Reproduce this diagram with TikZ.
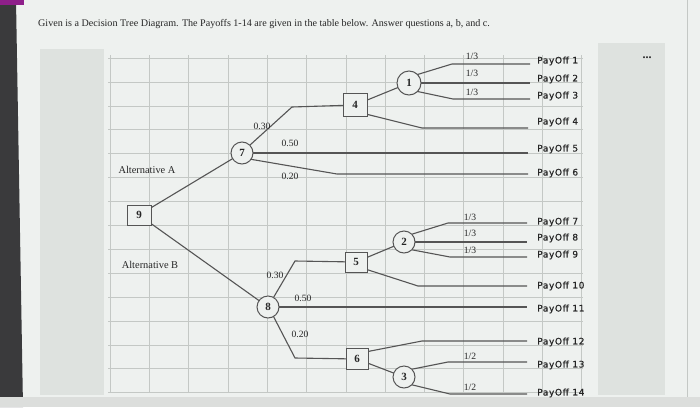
\documentclass[tikz,border=0pt]{standalone}
\usepackage{fontspec}
\setmainfont{Liberation Serif}
\newfontfamily\payfont[LetterSpace=7,FakeBold=0.6]{DejaVu Sans}
\definecolor{bgc}{HTML}{EEF1EF}
\definecolor{panelc}{HTML}{DEE2DF}
\definecolor{gridc}{HTML}{C4C8C5}
\definecolor{linec}{HTML}{555555}
\definecolor{txtc}{HTML}{262626}
\definecolor{stripc}{HTML}{3A3A3C}
\definecolor{purp}{HTML}{8E1F8A}
\begin{document}
\begin{tikzpicture}[x=1pt,y=-1pt,
  edge/.style={draw=linec,line width=1.1pt},
  chance/.style={circle,draw=linec,line width=1pt,fill=bgc,minimum size=22pt,inner sep=0pt,font=\fontsize{11}{12}\selectfont\bfseries,text=txtc},
  decbox/.style={rectangle,draw=linec,line width=1pt,fill=bgc,minimum width=23pt,minimum height=21pt,inner sep=0pt,font=\fontsize{11}{12}\selectfont\bfseries,text=txtc},
  prob/.style={font=\fontsize{9.6}{10}\selectfont,text=txtc,inner sep=0pt},
  pay/.style={anchor=west,font=\fontsize{9}{10}\selectfont\payfont,text=txtc,inner sep=0pt},
  alt/.style={font=\fontsize{10.4}{12}\selectfont,text=txtc,inner sep=0pt}]
\useasboundingbox (0,0) rectangle (700,407);
% screen background
\fill[bgc] (0,0) rectangle (700,407);
\fill[stripc] (0,0) -- (16,0) -- (23,407) -- (0,407) -- cycle;
\fill[purp] (0,0) rectangle (24,5);
\fill[gridc!60] (0,397) rectangle (700,407);
\draw[gridc,line width=0.6pt] (687,0) -- (687,397);
% side panels
\fill[panelc] (40,49) rectangle (104,395);
\fill[panelc] (598,43) rectangle (665,395);
% grid
\foreach \k in {0,...,12} {\draw[gridc,line width=0.6pt] ({110+39.3*\k},55) -- ({110+39.3*\k},393);}
\foreach \k in {0,...,14} {\draw[gridc,line width=0.6pt] (108,{58+23.9*\k}) -- (583,{58+23.9*\k});}
% title
\node[anchor=west,inner sep=0pt,font=\fontsize{10.1}{11}\selectfont,text=txtc] (title) at (38,24) {Given is a Decision Tree Diagram. The Payoffs 1-14 are given in the table below. Answer questions a, b, and c.};
\node[inner sep=0pt,font=\fontsize{12}{12}\selectfont\bfseries,text=txtc] (dots) at (647,58) {...};
% alternatives
\node[alt] (altA) at (147,170) {Alternative A};
\node[alt] (altB) at (150,265) {Alternative B};
% coordinates of line ends
\coordinate (e1) at (530,64);
\coordinate (e2) at (530,83);
\coordinate (e3) at (530,99);
\coordinate (e4) at (528,128);
\coordinate (e5) at (528,153);
\coordinate (e6) at (528,174);
\coordinate (e7) at (527,223);
\coordinate (e8) at (527,242);
\coordinate (e9) at (527,257);
\coordinate (e10) at (527,286);
\coordinate (e11) at (527,307);
\coordinate (e12) at (527,341);
\coordinate (e13) at (527,362);
\coordinate (e14) at (527,394);
% bends
\coordinate (b7a) at (292,107);
\coordinate (b7c) at (337,174);
\coordinate (b4b) at (422,128);
\coordinate (b1a) at (452,64);
\coordinate (b1c) at (453,99);
\coordinate (b8a) at (295,261);
\coordinate (b8c) at (295,358);
\coordinate (b5b) at (418,286);
\coordinate (b2a) at (448,223);
\coordinate (b2c) at (450,257);
\coordinate (b6a) at (422,341);
\coordinate (b3a) at (448,362);
\coordinate (b3c) at (450,394);
% edges first (nodes drawn on top); angles negative = upwards (y axis flipped)
\path[edge] (139,215) -- (242,153);
\path[edge] (139,215) -- (268,307);
\path[edge] (242,153) ++(-45:11) -- (b7a) -- (355,105);
\path[edge] (242,153) -- (e5);
\path[edge] (242,153) ++(35:11) -- (b7c) -- (e6);
\path[edge] (355,105) -- (409,83);
\path[edge] (355,105) ++(40:14) -- (b4b) -- (e4);
\path[edge] (409,83) ++(-45:12) -- (b1a) -- (e1);
\path[edge] (409,83) -- (e2);
\path[edge] (409,83) ++(45:12) -- (b1c) -- (e3);
\path[edge] (268,307) ++(-60:11) -- (b8a) -- (356,262);
\path[edge] (268,307) -- (e11);
\path[edge] (268,307) ++(60:11) -- (b8c) -- (357,359);
\path[edge] (356,262) -- (404,242);
\path[edge] (356,262) ++(35:13) -- (b5b) -- (e10);
\path[edge] (404,242) ++(-45:11) -- (b2a) -- (e7);
\path[edge] (404,242) -- (e8);
\path[edge] (404,242) ++(45:11) -- (b2c) -- (e9);
\path[edge] (357,359) ++(-35:13) -- (b6a) -- (e12);
\path[edge] (357,359) -- (404,377);
\path[edge] (404,377) ++(-45:11) -- (b3a) -- (e13);
\path[edge] (404,377) ++(45:11) -- (b3c) -- (e14);
% nodes
\node[decbox,minimum width=24pt,minimum height=20pt] (n9) at (139,215) {9};
\node[chance] (n7) at (242,153) {7};
\node[decbox,minimum width=24pt,minimum height=23pt] (n4) at (355,105) {4};
\node[chance,minimum size=24pt] (n1) at (409,83) {1};
\node[chance] (n8) at (268,307) {8};
\node[decbox,minimum width=22pt,minimum height=20pt] (n5) at (356,262) {5};
\node[decbox,minimum width=22pt,minimum height=21pt] (n6) at (357,359) {6};
\node[chance] (n2) at (404,242) {2};
\node[chance] (n3) at (404,377) {3};
% probabilities
\node[prob] (p1) at (262,126) {0.30};
\node[prob] (p2) at (290,143) {0.50};
\node[prob] (p3) at (290,176) {0.20};
\node[prob] (p4) at (275,275) {0.30};
\node[prob] (p5) at (303,298) {0.50};
\node[prob] (p6) at (300,334) {0.20};
\node[prob] (q1) at (472,56) {1/3};
\node[prob] (q2) at (472,73) {1/3};
\node[prob] (q3) at (472,92) {1/3};
\node[prob] (q4) at (470,217) {1/3};
\node[prob] (q5) at (470,233) {1/3};
\node[prob] (q6) at (470,250) {1/3};
\node[prob] (q7) at (470,356) {1/2};
\node[prob] (q8) at (470,387) {1/2};
% payoffs
\node[pay] (y1) at (537,61) {PayOff 1};
\node[pay] (y2) at (537,79) {PayOff 2};
\node[pay] (y3) at (537,96) {PayOff 3};
\node[pay] (y4) at (537,122) {PayOff 4};
\node[pay] (y5) at (537,149) {PayOff 5};
\node[pay] (y6) at (537,173) {PayOff 6};
\node[pay] (y7) at (537,222) {PayOff 7};
\node[pay] (y8) at (537,238) {PayOff 8};
\node[pay] (y9) at (537,255) {PayOff 9};
\node[pay] (y10) at (537,286) {PayOff 10};
\node[pay] (y11) at (537,309) {PayOff 11};
\node[pay] (y12) at (537,342) {PayOff 12};
\node[pay] (y13) at (537,365) {PayOff 13};
\node[pay] (y14) at (537,393) {PayOff 14};
\end{tikzpicture}
\end{document}
